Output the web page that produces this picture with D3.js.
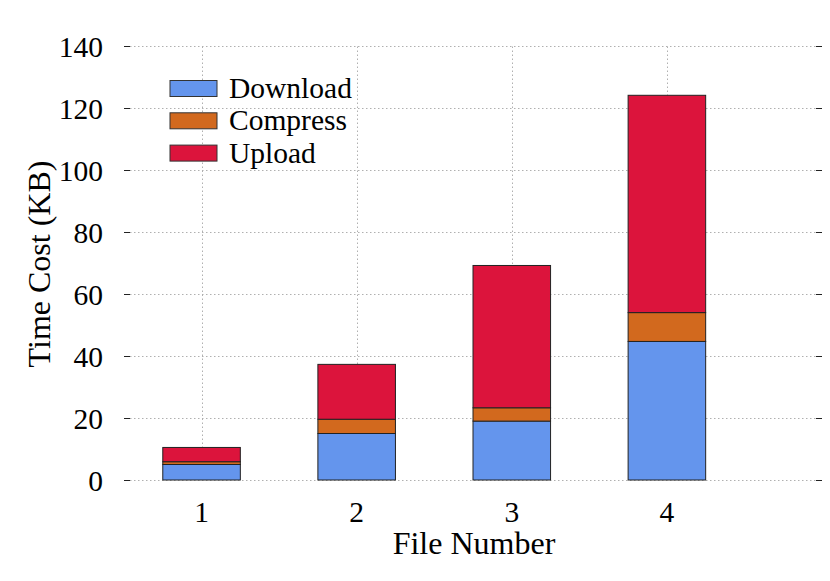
<!DOCTYPE html>
<html>
<head>
<meta charset="utf-8">
<script src="https://cdn.jsdelivr.net/npm/d3@7"></script>
<style>
  body { margin: 0; background: #fff; }
  text { font-family: 'Liberation Serif', 'Times New Roman', serif; fill: #000; }
</style>
</head>
<body>
<svg width="830" height="581"></svg>
<script>
// data
const files = [1, 2, 3, 4];
const download = [5.0, 15.0, 19.0, 44.7];
const compress = [0.9, 4.6, 4.3, 9.3];
const upload = [4.6, 17.7, 45.9, 70.1];
const seriesNames = ['Download', 'Compress', 'Upload'];
const yTicks = [0, 20, 40, 60, 80, 100, 120, 140];

const colors = ['#6495ED', '#D2691E', '#DC143C'];
const margins = { left: 124, right: 8, top: 46, bottom: 101 };
const W = 830, H = 581;

const svg = d3.select('svg');

const x = d3.scaleLinear().domain([0.5, 5]).range([margins.left, W - margins.right]);
const y = d3.scaleLinear().domain([0, 140]).range([H - margins.bottom, margins.top]);

// ---------------------------------------------------------
// grid
const grid = svg.append('g').attr('stroke', '#b0b0b0').attr('stroke-width', 1)
    .attr('stroke-dasharray', '1.5,2.5');
grid.selectAll('line.h').data(yTicks).enter().append('line')
    .attr('x1', margins.left + 6).attr('x2', W - margins.right - 6)
    .attr('y1', d => Math.round(y(d)) + 0.5).attr('y2', d => Math.round(y(d)) + 0.5);
grid.selectAll('line.v').data(files).enter().append('line')
    .attr('x1', d => Math.round(x(d)) + 0.5).attr('x2', d => Math.round(x(d)) + 0.5)
    .attr('y1', y(0)).attr('y2', y(140));

// ---------------------------------------------------------
// stacked bars
const rows = files.map((f, i) => ({ file: f, Download: download[i], Compress: compress[i], Upload: upload[i] }));
const stack = d3.stack().keys(seriesNames)(rows);
const barW = x(1.5) - x(1);

svg.append('g').selectAll('g').data(stack).enter().append('g')
    .attr('fill', (d, i) => colors[i])
    .selectAll('rect').data(d => d).enter().append('rect')
    .attr('x', d => x(d.data.file) - barW / 2)
    .attr('width', barW)
    .attr('y', d => y(d[1]))
    .attr('height', d => y(d[0]) - y(d[1]))
    .attr('stroke', '#222')
    .attr('stroke-width', 1);

// ---------------------------------------------------------
// axes (left and right ticks, pointing inward)
const yAxisL = d3.axisRight(y).tickValues(yTicks).tickSize(6).tickFormat('');
const yAxisR = d3.axisLeft(y).tickValues(yTicks).tickSize(6).tickFormat('');
const gl = svg.append('g').attr('transform', `translate(${margins.left},0)`).call(yAxisL);
const gr = svg.append('g').attr('transform', `translate(${W - margins.right},0)`).call(yAxisR);
[gl, gr].forEach(g => {
    g.select('.domain').remove();
    g.selectAll('line').attr('stroke', '#222');
});

svg.append('g').selectAll('text').data(yTicks).enter().append('text')
    .attr('x', 103).attr('y', d => y(d) + 10.5)
    .attr('text-anchor', 'end')
    .style('font-size', '29.5px')
    .text(d => d);

svg.append('g').selectAll('text').data(files).enter().append('text')
    .attr('x', d => x(d)).attr('y', 522)
    .attr('text-anchor', 'middle')
    .style('font-size', '29.5px')
    .text(d => d);

// axis labels
svg.append('text')
    .attr('x', 474).attr('y', 554)
    .attr('text-anchor', 'middle')
    .style('font-size', '32px')
    .text('File Number');
svg.append('text')
    .attr('transform', 'rotate(-90)')
    .attr('x', -264).attr('y', 50)
    .attr('text-anchor', 'middle')
    .style('font-size', '32px')
    .text('Time Cost (KB)');

// ---------------------------------------------------------
// legend
const legend = svg.append('g');
legend.selectAll('rect').data(seriesNames).enter().append('rect')
    .attr('x', 170).attr('y', (d, i) => 80.5 + i * 32.3)
    .attr('width', 47).attr('height', 16)
    .attr('fill', (d, i) => colors[i])
    .attr('stroke', '#333').attr('stroke-width', 1);
legend.selectAll('text').data(seriesNames).enter().append('text')
    .attr('x', 229).attr('y', (d, i) => 98 + i * 32.3)
    .style('font-size', '29.5px')
    .text(d => d);
</script>
</body>
</html>
